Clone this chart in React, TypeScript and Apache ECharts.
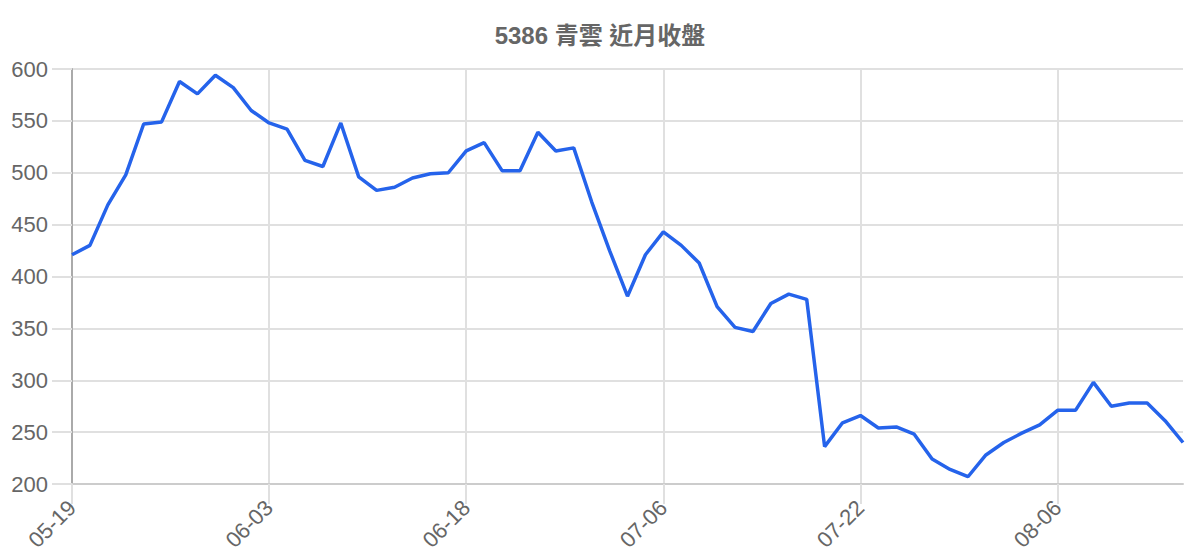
import { useEffect, useRef } from 'react'
import * as echarts from 'echarts'

const TITLE = '5386 青雲 近月收盤'

const DATES = [
  '05-19', '05-20', '05-21', '05-22', '05-23', '05-26', '05-27', '05-28', '05-29', '05-30',
  '06-02', '06-03', '06-04', '06-05', '06-06', '06-09', '06-10', '06-11', '06-12', '06-13',
  '06-16', '06-17', '06-18', '06-19', '06-20', '06-23', '06-24', '06-25', '06-26', '06-27',
  '06-30', '07-01', '07-03', '07-06', '07-07', '07-08', '07-09', '07-10', '07-11', '07-14',
  '07-15', '07-16', '07-17', '07-18', '07-22', '07-23', '07-24', '07-25', '07-28', '07-29',
  '07-30', '07-31', '08-01', '08-04', '08-05', '08-06', '08-07', '08-08', '08-11', '08-12',
  '08-13', '08-14', '08-15',
]

const CLOSES = [
  421, 430, 469, 498, 547, 549, 588, 576, 594, 582,
  560, 548, 542, 512, 506, 548, 496, 483, 486, 495,
  499, 500, 521, 529, 502, 502, 539, 521, 524, 472,
  425, 381, 421, 443, 430, 413, 371, 351, 347, 374,
  383, 378, 236, 259, 266, 254, 255, 248, 224, 214,
  207, 228, 240, 249, 257, 271, 271, 298, 275, 278,
  278, 261, 240,
]

const Y_MIN = 200
const Y_MAX = 600
const Y_STEP = 50

const FONT = '"Liberation Sans", Arial, "Noto Sans CJK TC", sans-serif'

export default function App() {
  const chartRef = useRef<HTMLDivElement>(null)

  useEffect(() => {
    if (!chartRef.current) return
    document.body.style.margin = '0'

    const chart = echarts.init(chartRef.current, undefined, { renderer: 'svg' })

    const option: echarts.EChartsOption = {
      animation: false,
      backgroundColor: '#ffffff',
      title: {
        text: TITLE,
        left: 'center',
        top: 23,
        padding: 0,
        textStyle: {
          color: '#666666',
          fontSize: 24,
          fontWeight: 'bold',
          fontFamily: FONT,
        },
      },
      grid: {
        left: 72,
        right: 17,
        top: 69,
        bottom: 76,
        containLabel: false,
      },
      xAxis: {
        type: 'category',
        data: DATES,
        boundaryGap: false,
        axisLine: { lineStyle: { color: '#cccccc', width: 2 } },
        axisTick: {
          show: true,
          interval: 10,
          length: 20,
          lineStyle: { color: '#e0e0e0', width: 2 },
        },
        axisLabel: {
          interval: 10,
          rotate: 45,
          margin: 20,
          color: '#666666',
          fontSize: 22,
          fontFamily: FONT,
        },
        splitLine: {
          show: true,
          interval: 10,
          lineStyle: { color: '#e0e0e0', width: 2 },
        },
      },
      yAxis: {
        type: 'value',
        min: Y_MIN,
        max: Y_MAX,
        interval: Y_STEP,
        axisLine: { show: true, lineStyle: { color: '#aaaaaa', width: 2 } },
        axisTick: {
          show: true,
          length: 20,
          lineStyle: { color: '#e0e0e0', width: 2 },
        },
        axisLabel: {
          margin: 24,
          color: '#666666',
          fontSize: 22,
          fontFamily: FONT,
        },
        splitLine: {
          show: true,
          lineStyle: { color: '#e0e0e0', width: 2 },
        },
      },
      series: [
        {
          name: '收盤',
          type: 'line',
          data: CLOSES,
          showSymbol: false,
          symbol: 'none',
          lineStyle: { color: '#2563eb', width: 3.5 },
          itemStyle: { color: '#2563eb' },
        },
      ],
    }

    chart.setOption(option)

    const handleResize = () => chart.resize()
    window.addEventListener('resize', handleResize)

    return () => {
      window.removeEventListener('resize', handleResize)
      chart.dispose()
    }
  }, [])

  return <div ref={chartRef} style={{ width: '1200px', height: '560px' }} />
}
